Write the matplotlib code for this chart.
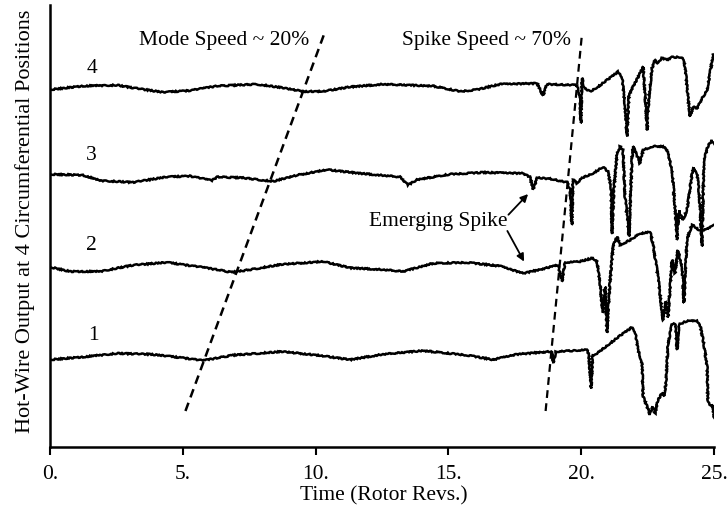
import matplotlib
matplotlib.use("Agg")
import matplotlib.pyplot as plt
import matplotlib.transforms as mtransforms

plt.rcParams["font.family"] = ["Liberation Serif", "DejaVu Serif"]

# ── Hot-wire traces (time in rotor revs, output offset per probe) ────────────
t4_x = [0, 1.24, 2.52, 3.12, 4.25, 5.27, 6.29, 7.79, 8.77, 9.53, 10.28, 11.30,
        12.54, 14.42, 15.44, 16.08, 16.94, 18.34, 18.56, 18.71, 19.84, 19.95,
        19.99, 20.03, 20.11, 20.33, 20.63, 21.39, 21.54, 21.65, 21.72, 21.80,
        21.95, 22.21, 22.33, 22.44, 22.48, 22.55, 22.67, 22.78, 22.85, 23.04,
        23.23, 23.42, 23.80, 23.91, 24.02, 24.10, 24.21, 24.36, 24.55, 24.74,
        24.85, 24.96]
t4_y = [3.97, 4.01, 4.02, 3.99, 3.94, 3.96, 4.01, 4.03, 3.99, 3.95, 3.95, 4.00,
        4.03, 4.01, 3.95, 3.97, 4.03, 4.04, 3.90, 4.03, 4.02, 3.89,
        3.60, 4.10, 3.99, 3.95, 4.00, 4.17, 4.11, 3.78, 3.45, 3.91,
        4.00, 4.15, 4.23, 3.74, 3.52, 3.89, 4.21, 4.30, 4.26, 4.32,
        4.30, 4.33, 4.33, 4.23, 3.89, 3.67, 3.78, 3.76, 3.87, 3.97,
        4.15, 4.36]

t3_x = [0, 1.24, 1.88, 3.12, 4.41, 5.27, 6.10, 6.29, 7.27, 8.40, 9.30, 10.43,
        11.67, 13.18, 13.48, 13.82, 15.06, 16.30, 17.81, 18.07, 18.19, 18.34,
        18.83, 19.47, 19.58, 19.65, 19.69, 19.84, 20.03, 20.44, 20.82, 21.01,
        21.12, 21.16, 21.23, 21.35, 21.46, 21.57, 21.65, 21.80, 21.91, 21.95,
        22.10, 22.21, 22.33, 22.70, 23.08, 23.23, 23.42, 23.53, 23.61, 23.68,
        23.83, 23.98, 24.21, 24.36, 24.44, 24.55, 24.62, 24.77, 24.92, 25.0]
t3_y = [3.03, 3.02, 2.96, 2.94, 3.00, 3.01, 2.96, 3.00, 2.99, 2.95, 3.02, 3.08,
        3.04, 3.00, 2.91, 2.97, 3.03, 3.05, 3.04, 3.00, 2.86, 2.99,
        2.98, 2.94, 2.86, 2.47, 2.97, 2.93, 2.99, 3.04, 3.11, 3.06,
        2.89, 2.37, 2.86, 3.26, 3.34, 3.30, 2.78, 2.34, 3.19, 3.34,
        3.24, 3.15, 3.30, 3.34, 3.34, 3.30, 3.08, 2.67, 2.30, 2.63,
        2.52, 2.63, 3.11, 3.04, 2.82, 2.23, 3.19, 3.34, 3.41, 3.36]

t2_x = [0, 0.75, 1.88, 3.12, 4.41, 5.65, 6.29, 6.85, 7.53, 8.77, 10.28, 11.30,
        12.54, 13.29, 14.42, 15.70, 16.94, 17.81, 18.45, 18.83, 19.13, 19.28,
        19.39, 19.95, 20.44, 20.59, 20.71, 20.80, 20.90, 20.97, 21.08, 21.20,
        21.35, 21.46, 21.84, 22.21, 22.59, 22.70, 22.89, 23.08, 23.19, 23.27,
        23.42, 23.53, 23.64, 23.80, 23.87, 23.98, 24.17, 24.36, 24.47, 24.74,
        24.96]
t2_y = [2.00, 1.95, 1.95, 2.02, 2.05, 2.00, 1.97, 1.94, 1.97, 2.03, 2.06, 1.99,
        1.97, 1.95, 2.04, 2.05, 2.01, 1.93, 1.97, 2.00, 2.02, 1.84,
        2.05, 2.06, 2.10, 2.06, 1.82, 1.49, 1.78, 1.27, 1.82, 2.23,
        2.34, 2.24, 2.30, 2.37, 2.39, 2.26, 1.89, 1.41, 1.62, 1.44,
        2.08, 1.93, 2.19, 2.00, 1.60, 2.30, 2.47, 2.43, 2.40, 2.42,
        2.47]

t1_x = [0, 1.24, 2.52, 3.77, 5.01, 5.76, 6.89, 8.77, 10.05, 11.30, 12.54, 14.04,
        15.70, 16.68, 17.58, 18.83, 18.90, 18.94, 19.05, 19.69, 20.22, 20.29,
        20.37, 20.44, 20.59, 21.08, 21.57, 21.91, 22.03, 22.14, 22.29, 22.33,
        22.48, 22.59, 22.70, 22.78, 22.89, 23.04, 23.12, 23.19, 23.27, 23.42,
        23.53, 23.61, 23.68, 23.98, 24.36, 24.47, 24.59, 24.74, 24.77, 24.89,
        24.96, 25.0]
t1_y = [0.97, 1.00, 1.04, 1.03, 0.99, 0.96, 1.02, 1.06, 1.02, 0.97, 1.03, 1.07,
        1.02, 0.97, 1.03, 1.06, 1.05, 0.93, 1.06, 1.07, 1.08, 1.02,
        0.65, 1.02, 1.04, 1.15, 1.26, 1.33, 1.28, 1.08, 0.93, 0.56,
        0.45, 0.36, 0.45, 0.37, 0.52, 0.60, 0.56, 0.71, 1.15, 1.36,
        1.37, 1.08, 1.36, 1.40, 1.40, 1.36, 1.19, 0.89, 0.52, 0.45,
        0.47, 0.32]

traces = [(t1_x, t1_y), (t2_x, t2_y), (t3_x, t3_y), (t4_x, t4_y)]
probe_labels = ["1", "2", "3", "4"]
label_x = [1.62, 1.55, 1.55, 1.58]
label_y = [1.24, 2.24, 3.24, 4.21]

# propagation speed guides
mode_x = [5.10, 10.35]
mode_y = [0.40, 4.61]
spike_x = [18.66, 20.02]
spike_y = [0.40, 4.56]

xticks = [0, 5, 10, 15, 20, 25]
xtick_labels = ["0.", "5.", "10.", "15.", "20.", "25."]

# ── Figure ───────────────────────────────────────────────────────────────────
fig = plt.figure(figsize=(7.27, 5.07), dpi=100)
ax = fig.add_axes([50 / 727, 60 / 507, 664 / 727, 442 / 507])

for x, y in traces:
    line, = ax.plot(x, y, color="black", lw=1.8, solid_joinstyle="miter")
    line.set_sketch_params(scale=0.6, length=3, randomness=6)

for lx, ly, txt in zip(label_x, label_y, probe_labels):
    ax.text(lx, ly, txt, fontsize=15.5, ha="center", va="center")

ax.plot(mode_x, mode_y, color="black", lw=1.8, linestyle=(0, (3.5, 2.3)))
ax.plot(spike_x, spike_y, color="black", lw=1.6, linestyle=(0, (3.5, 2.4)))

ax.text(6.55, 4.52, "Mode Speed ~ 20%", fontsize=15.5, ha="center", va="center")
ax.text(16.42, 4.52, "Spike Speed ~ 70%", fontsize=15.5, ha="center", va="center")

# Emerging spike callout
ax.text(17.24, 2.51, "Emerging Spike", fontsize=15.5, ha="right", va="center")
arrow_kw = dict(arrowstyle="-|>", lw=1.3, color="black", mutation_scale=11,
                shrinkA=0, shrinkB=0)
ax.annotate("", xy=(18.0, 2.81), xytext=(17.26, 2.58), arrowprops=arrow_kw)
ax.annotate("", xy=(17.85, 2.06), xytext=(17.22, 2.40), arrowprops=arrow_kw)

ax.set_xlim(0, 25)
ax.set_ylim(0, 4.91)
ax.set_xticks(xticks)
ax.set_xticklabels(xtick_labels, fontsize=15.5)
offset = mtransforms.ScaledTranslation(4 / 100, 0, fig.dpi_scale_trans)
for lbl in ax.get_xticklabels():
    lbl.set_transform(lbl.get_transform() + offset)
ax.set_yticks([])
ax.tick_params(axis="x", direction="out", length=6, width=1.5, pad=7)

for side in ["top", "right"]:
    ax.spines[side].set_visible(False)
ax.spines["left"].set_linewidth(1.8)
ax.spines["bottom"].set_linewidth(1.8)

fig.text(384 / 727, 1 - 496 / 507, "Time (Rotor Revs.)", fontsize=15.5,
         ha="center", va="center")
fig.text(25 / 727, 1 - 221 / 507, "Hot-Wire Output at 4 Circumferential Positions",
         fontsize=16, rotation=90, ha="center", va="center")

fig.savefig("out.png", dpi=100, facecolor="white")
plt.close(fig)
